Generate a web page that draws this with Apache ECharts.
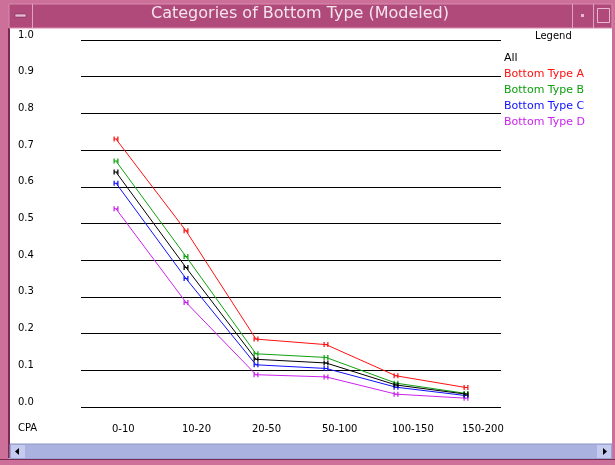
<!DOCTYPE html>
<html>
<head>
<meta charset="utf-8">
<script src="https://cdn.jsdelivr.net/npm/echarts@6/dist/echarts.min.js"></script>
<style>html,body{margin:0;padding:0;background:#fff}#c{width:615px;height:465px}</style>
</head>
<body>
<div id="c"></div>
<script>
var categories = ['0-10', '10-20', '20-50', '50-100', '100-150', '150-200'];
var seriesNames = ['All', 'Bottom Type A', 'Bottom Type B', 'Bottom Type C', 'Bottom Type D'];
var allValues = [0.64, 0.38, 0.13, 0.12, 0.06, 0.035];
var typeAValues = [0.73, 0.48, 0.185, 0.17, 0.085, 0.053];
var typeBValues = [0.67, 0.41, 0.145, 0.135, 0.065, 0.037];
var typeCValues = [0.61, 0.35, 0.115, 0.105, 0.054, 0.031];
var typeDValues = [0.54, 0.285, 0.088, 0.082, 0.035, 0.024];
var yTicks = ['0.0','0.1','0.2','0.3','0.4','0.5','0.6','0.7','0.8','0.9','1.0'];
var titleText = 'Categories of Bottom Type (Modeled)';

var colors = ['#000000', '#ff1010', '#10a010', '#1010ff', '#cc22ee'];
var values = [allValues, typeAValues, typeBValues, typeCValues, typeDValues];
var hSymbol = 'path://M0,0h2v4h4v-4h2v10h-2v-4h-4v4h-2z';
var font = 'DejaVu Sans';

var chart = echarts.init(document.getElementById('c'));
var series = seriesNames.map(function (n, i) {
  return {
    name: n, type: 'line', data: values[i],
    symbol: hSymbol, symbolSize: [5, 5], showSymbol: true,
    lineStyle: { color: colors[i], width: 1 },
    itemStyle: { color: colors[i] },
    animation: false, z: 10 - i
  };
});

var pink = '#b04a7a', pinkLight = '#cc709a', pinkDark = '#7a2a52';
var scrollBlue = '#aab3df';

chart.setOption({
  animation: false,
  backgroundColor: '#ffffff',
  grid: { left: 81, right: 114, top: 40, bottom: 58, containLabel: false },
  xAxis: {
    type: 'category', data: categories, boundaryGap: true,
    axisLine: { show: false }, axisTick: { show: false }, splitLine: { show: false },
    axisLabel: { align: 'left', padding: [0, 0, 0, -4], margin: 17, color: '#000', fontFamily: font, fontSize: 10 }
  },
  yAxis: {
    type: 'value', min: 0, max: 1, interval: 0.1,
    axisLine: { show: false }, axisTick: { show: false },
    splitLine: { show: true, lineStyle: { color: '#000', width: 1 } },
    axisLabel: {
      align: 'left', margin: 63, verticalAlign: 'bottom', color: '#000', fontFamily: font, fontSize: 10,
      formatter: function (v) { return yTicks[Math.round(v * 10)]; }
    }
  },
  legend: {
    orient: 'vertical', left: 494, top: 47, itemGap: 4,
    itemWidth: 0, itemHeight: 0, icon: 'rect',
    textStyle: { fontFamily: font, fontSize: 11, lineHeight: 12 },
    data: seriesNames.map(function (n, i) { return { name: n, textStyle: { color: colors[i] } }; }),
    selectedMode: false
  },
  series: series,
  graphic: [
    // left border
    { type: 'rect', shape: { x: 0, y: 0, width: 9, height: 465 }, style: { fill: pinkLight }, silent: true },
    { type: 'rect', shape: { x: 8, y: 28, width: 2, height: 430 }, style: { fill: pinkDark }, silent: true },
    // right border
    { type: 'rect', shape: { x: 612, y: 0, width: 3, height: 465 }, style: { fill: pinkLight }, silent: true },
    // top border and title bar
    { type: 'rect', shape: { x: 0, y: 0, width: 615, height: 4 }, style: { fill: pinkLight }, silent: true },
    { type: 'rect', shape: { x: 9, y: 4, width: 603, height: 24 }, style: { fill: pink, stroke: '#d88aae', lineWidth: 1 }, silent: true },
    { type: 'line', shape: { x1: 32.5, y1: 4, x2: 32.5, y2: 28 }, style: { stroke: '#e4a0c0', lineWidth: 1 }, silent: true },
    { type: 'rect', shape: { x: 15, y: 14, width: 11, height: 3 }, style: { fill: '#e8b8d0', stroke: '#6a2448', lineWidth: 0.5 }, silent: true },
    { type: 'line', shape: { x1: 572.5, y1: 4, x2: 572.5, y2: 28 }, style: { stroke: '#e4a0c0', lineWidth: 1 }, silent: true },
    { type: 'line', shape: { x1: 593.5, y1: 4, x2: 593.5, y2: 28 }, style: { stroke: '#e4a0c0', lineWidth: 1 }, silent: true },
    { type: 'rect', shape: { x: 581, y: 14, width: 3, height: 3 }, style: { fill: '#e8b8d0' }, silent: true },
    { type: 'rect', shape: { x: 597.5, y: 8.5, width: 12, height: 14 }, style: { fill: 'none', stroke: '#e8b8d0', lineWidth: 1 }, silent: true },
    { type: 'text', x: 300, y: 6, style: { text: titleText, textAlign: 'center', fill: '#f4e4ee', fontFamily: font, fontSize: 16 }, silent: true },
    // "Legend" header and CPA axis name
    { type: 'text', left: 535, top: 31, style: { text: 'Legend', fill: '#000', fontFamily: font, fontSize: 10 }, silent: true },
    { type: 'text', left: 18, top: 423, style: { text: 'CPA', fill: '#000', fontFamily: font, fontSize: 10 }, silent: true },
    // scrollbar
    { type: 'rect', shape: { x: 10, y: 444, width: 602, height: 15 }, style: { fill: scrollBlue, stroke: '#8c96c8', lineWidth: 1 }, silent: true },
    { type: 'rect', shape: { x: 11, y: 445, width: 14, height: 13 }, style: { fill: '#c4cbee' }, silent: true },
    { type: 'polygon', shape: { points: [[15, 451.5], [19, 448], [19, 455]] }, style: { fill: '#000' }, silent: true },
    { type: 'rect', shape: { x: 597, y: 445, width: 14, height: 13 }, style: { fill: '#c4cbee' }, silent: true },
    { type: 'polygon', shape: { points: [[607, 451.5], [603, 448], [603, 455]] }, style: { fill: '#000' }, silent: true },
    // bottom border
    { type: 'rect', shape: { x: 0, y: 459, width: 615, height: 6 }, style: { fill: pinkLight }, silent: true },
    { type: 'rect', shape: { x: 0, y: 459, width: 615, height: 1 }, style: { fill: pinkDark }, silent: true }
  ]
});
</script>
</body>
</html>
